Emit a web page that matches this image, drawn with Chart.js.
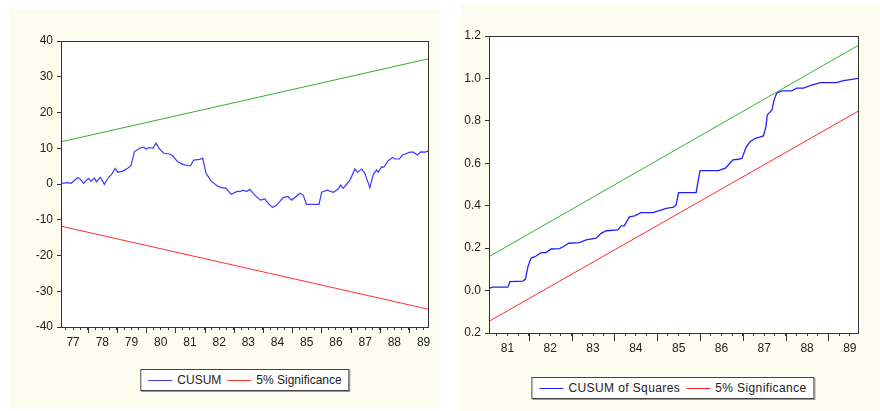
<!DOCTYPE html>
<html>
<head>
<meta charset="utf-8">
<script src="https://cdn.jsdelivr.net/npm/chart.js@4.4.1/dist/chart.umd.min.js"></script>
<style>
  body { margin: 0; width: 880px; height: 411px; position: relative; overflow: hidden; background: #fff;
         font-family: "Liberation Sans", Arial, sans-serif; }
  .panel { position: absolute; background: #fdfdef; }
  #p1 { left: 9px; top: 10px; width: 431px; height: 400px; }
  #p2 { left: 461px; top: 3px; width: 419px; height: 408px; }
  canvas { position: absolute; }
  #c1 { left: 9px; top: 10px; }
  #c2 { left: 450px; top: 3px; }
  .legend { position: absolute; transform: translateX(-50%); display: flex; align-items: center;
            border: 1px solid #444; box-shadow: 1px 1px 0 #999; background: #fff; padding: 0 4px;
            font-size: 12px; color: #222; white-space: nowrap; }
  .legend .item { display: flex; align-items: center; margin: 0 3px; }
  .legend .swatch { display: block; width: 24px; height: 1px; margin-right: 5px; }
  #l1 { left: 245px; top: 369px; height: 20px; }
  #l2 { left: 673px; top: 377px; height: 20px; letter-spacing: 0.4px; }
</style>
</head>
<body>
<div class="panel" id="p1"></div>
<div class="panel" id="p2"></div>
<canvas id="c1" width="431" height="345"></canvas>
<canvas id="c2" width="430" height="358"></canvas>
<div class="legend" id="l1"></div>
<div class="legend" id="l2"></div>
<script>
// CUSUM test (left)
const cusumYears = [1977.085, 1977.31, 1977.43, 1977.66, 1977.75, 1977.86, 1978.02, 1978.11, 1978.23, 1978.30,
  1978.43, 1978.57, 1978.71, 1978.82, 1978.94, 1979.03, 1979.20, 1979.37, 1979.48, 1979.60,
  1979.77, 1979.92, 1980.00, 1980.11, 1980.23, 1980.34, 1980.46, 1980.60, 1980.80, 1980.91,
  1981.08, 1981.26, 1981.43, 1981.52, 1981.63, 1981.83, 1981.94, 1982.05, 1982.23, 1982.43,
  1982.57, 1982.74, 1982.91, 1983.14, 1983.21, 1983.32, 1983.44, 1983.55, 1983.72, 1983.92,
  1984.07, 1984.18, 1984.33, 1984.47, 1984.69, 1984.86, 1984.98, 1985.27, 1985.38, 1985.49,
  1985.72, 1985.92, 1986.01, 1986.20, 1986.41, 1986.58, 1986.66, 1986.75, 1986.98, 1987.15,
  1987.24, 1987.38, 1987.49, 1987.66, 1987.78, 1987.89, 1987.95, 1988.06, 1988.14, 1988.29,
  1988.44, 1988.52, 1988.67, 1988.78, 1989.03, 1989.15, 1989.29, 1989.40, 1989.55, 1989.652];
const cusumValues = [0.2, 0.4, 0.2, 1.8, 1.3, 0.2, 1.6, 0.8, 1.6, 0.6,
  1.9, -0.1, 1.8, 2.7, 4.4, 3.3, 3.6, 4.4, 5.1, 9.0,
  10.0, 10.3, 9.8, 10.2, 10.0, 11.4, 9.8, 8.6, 8.4, 7.9,
  6.2, 5.5, 5.1, 5.1, 6.7, 6.9, 7.2, 3.0, 0.8, -0.5,
  -1.0, -1.2, -2.9, -2.0, -2.1, -1.7, -2.1, -1.5, -3.1, -4.5,
  -4.2, -5.4, -6.6, -5.9, -3.8, -3.5, -4.5, -2.6, -3.1, -5.7,
  -5.7, -5.7, -2.3, -1.7, -2.3, -1.4, -0.3, -1.2, 1.1, 4.2,
  3.3, 4.2, 3.0, -1.0, 2.7, 3.9, 3.3, 4.8, 4.7, 6.5,
  7.4, 7.0, 7.0, 8.1, 8.9, 8.9, 8.1, 9.0, 8.9, 9.2];
const cusumBoundYears = [1977.085, 1989.652];
const cusumUpper = [11.8, 35.0];
const cusumLower = [-11.8, -35.0];

// CUSUM of squares test (right)
const sqYears = [1981.07, 1981.16, 1981.51, 1981.56, 1981.86, 1981.92, 1981.98, 1982.05, 1982.17, 1982.29,
  1982.40, 1982.52, 1982.72, 1982.83, 1982.93, 1983.18, 1983.34, 1983.57, 1983.69, 1983.81,
  1984.08, 1984.16, 1984.23, 1984.35, 1984.47, 1984.62, 1984.90, 1985.05, 1985.21, 1985.38,
  1985.44, 1985.50, 1985.91, 1985.94, 1986.00, 1986.43, 1986.59, 1986.66, 1986.77, 1986.90,
  1986.98, 1987.08, 1987.17, 1987.29, 1987.39, 1987.48, 1987.54, 1987.57, 1987.68, 1987.73,
  1987.79, 1987.91, 1988.14, 1988.26, 1988.42, 1988.61, 1988.81, 1989.19, 1989.35, 1989.55, 1989.69];
const sqValues = [0.011, 0.016, 0.016, 0.042, 0.045, 0.053, 0.113, 0.152, 0.163, 0.179,
  0.179, 0.196, 0.198, 0.210, 0.223, 0.226, 0.239, 0.247, 0.270, 0.282,
  0.286, 0.305, 0.305, 0.348, 0.352, 0.367, 0.367, 0.377, 0.388, 0.393,
  0.404, 0.462, 0.462, 0.498, 0.565, 0.565, 0.577, 0.592, 0.616, 0.619,
  0.624, 0.678, 0.702, 0.718, 0.723, 0.729, 0.773, 0.828, 0.851, 0.899,
  0.930, 0.941, 0.941, 0.954, 0.954, 0.969, 0.980, 0.980, 0.990, 0.996, 1.000];
const sqBoundYears = [1981.07, 1989.69];
const sqUpper = [0.16, 1.155];
const sqLower = [-0.145, 0.845];

const legendLeft = ['CUSUM', '5% Significance'];
const legendRight = ['CUSUM of Squares', '5% Significance'];

const toPoints = (xs, ys) => xs.map((x, i) => ({ x: x, y: ys[i] }));

Chart.defaults.font.family = '"Liberation Sans", Arial, sans-serif';
Chart.defaults.font.size = 12;
Chart.defaults.color = '#222';

// white plot area, box around it and longer ticks at year boundaries
const framePlugin = {
  id: 'frame',
  beforeDraw(chart) {
    const { ctx, chartArea: a } = chart;
    ctx.save();
    ctx.fillStyle = '#ffffff';
    ctx.fillRect(a.left, a.top, a.right - a.left, a.bottom - a.top);
    ctx.restore();
  },
  afterDraw(chart, args, opts) {
    const { ctx, chartArea: a } = chart;
    const x = chart.scales.x;
    ctx.save();
    ctx.strokeStyle = '#333';
    ctx.lineWidth = 1;
    ctx.strokeRect(Math.round(a.left) + 0.5, Math.round(a.top) + 0.5,
      Math.round(a.right - a.left), Math.round(a.bottom - a.top));
    x.ticks.forEach(t => {
      if (Math.abs(t.value - Math.round(t.value)) < 1e-6) {
        const px = Math.round(x.getPixelForValue(t.value)) + 0.5;
        ctx.beginPath();
        ctx.moveTo(px, a.bottom);
        ctx.lineTo(px, a.bottom + opts.major);
        ctx.stroke();
      }
    });
    ctx.restore();
  }
};

function lineSet(label, data, color, width) {
  return { label, data, borderColor: color, backgroundColor: color, borderWidth: width,
           pointRadius: 0, tension: 0, fill: false };
}

function makeChart(id, cfg) {
  return new Chart(document.getElementById(id), {
    type: 'line',
    data: { datasets: cfg.datasets },
    plugins: [framePlugin],
    options: {
      responsive: false,
      animation: false,
      devicePixelRatio: 1,
      layout: { padding: cfg.padding },
      plugins: { legend: { display: false }, tooltip: { enabled: false }, frame: { major: cfg.major } },
      scales: {
        x: {
          type: 'linear',
          min: cfg.xMin,
          max: cfg.xMax,
          afterFit: s => { s.height = 28; },
          grid: { drawOnChartArea: false, tickLength: 3, color: '#333' },
          border: { color: '#333' },
          ticks: {
            stepSize: 0.25,
            autoSkip: false,
            maxRotation: 0,
            includeBounds: false,
            padding: 5,
            callback: v => Math.abs(v - Math.floor(v) - 0.5) < 1e-6 ? String(Math.floor(v)).slice(2) : ''
          }
        },
        y: {
          min: cfg.yMin,
          max: cfg.yMax,
          afterFit: s => { s.width = cfg.yWidth; },
          grid: { drawOnChartArea: false, tickLength: 4, color: '#333' },
          border: { color: '#333' },
          ticks: { stepSize: cfg.yStep, padding: 4, callback: cfg.yFormat }
        }
      }
    }
  });
}

const chart1 = makeChart('c1', {
  datasets: [
    lineSet(legendLeft[0], toPoints(cusumYears, cusumValues), '#3a3aff', 1.2),
    lineSet(legendLeft[1], toPoints(cusumBoundYears, cusumLower), '#ff3030', 1),
    lineSet('', toPoints(cusumBoundYears, cusumUpper), '#30b030', 1)
  ],
  padding: { top: 31, right: 12, left: 0, bottom: 0 },
  xMin: cusumBoundYears[0], xMax: cusumBoundYears[1],
  yMin: -40, yMax: 40, yStep: 10, yWidth: 52, major: 6,
  yFormat: v => String(v)
});

const chart2 = makeChart('c2', {
  datasets: [
    lineSet(legendRight[0], toPoints(sqYears, sqValues), '#2020ff', 1.3),
    lineSet(legendRight[1], toPoints(sqBoundYears, sqLower), '#ff2a2a', 1),
    lineSet('', toPoints(sqBoundYears, sqUpper), '#2cb82c', 1)
  ],
  padding: { top: 33, right: 22, left: 0, bottom: 0 },
  xMin: sqBoundYears[0], xMax: sqBoundYears[1],
  yMin: -0.2, yMax: 1.2, yStep: 0.2, yWidth: 39, major: 8,
  yFormat: v => Math.abs(v).toFixed(1)
});

function buildLegend(id, chart) {
  const box = document.getElementById(id);
  chart.data.datasets.filter(d => d.label).forEach(d => {
    const item = document.createElement('div');
    item.className = 'item';
    const sw = document.createElement('span');
    sw.className = 'swatch';
    sw.style.backgroundColor = d.borderColor;
    const txt = document.createElement('span');
    txt.textContent = d.label;
    item.appendChild(sw);
    item.appendChild(txt);
    box.appendChild(item);
  });
}
buildLegend('l1', chart1);
buildLegend('l2', chart2);
</script>
</body>
</html>
